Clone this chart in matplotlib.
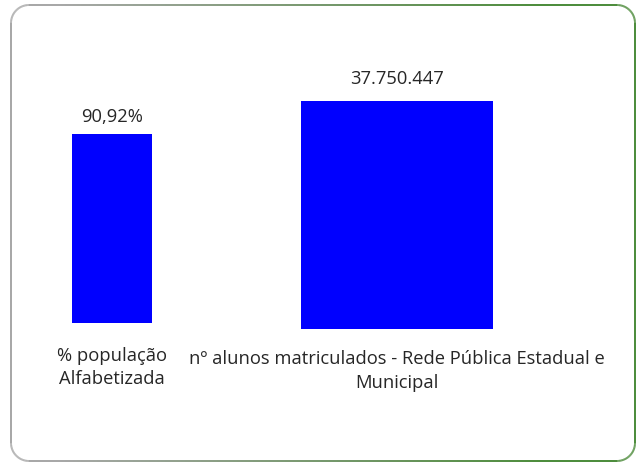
import numpy as np
import matplotlib
matplotlib.use('Agg')
import matplotlib.pyplot as plt
from matplotlib.collections import LineCollection
from matplotlib.transforms import Affine2D

plt.rcParams['font.family'] = ['Open Sans', 'DejaVu Sans']

# dados
categorias = ['% população\nAlfabetizada',
              'nº alunos matriculados - Rede Pública Estadual e\nMunicipal']
valores = [90.92, 37750447]
rotulos = ['90,92%', '37.750.447']

W, H = 641, 462
fig = plt.figure(figsize=(W / 100, H / 100), dpi=100)
cor_txt = '#262626'
azul = '#0000ff'

def px_axes(x0, x1, ytop, ybot):
    # pixel coords (origem em cima) -> fracao da figura
    return fig.add_axes([x0 / W, 1 - ybot / H, (x1 - x0) / W, (ybot - ytop) / H])

# barra 1: x 72-152, topo 134, base 323
ax1 = px_axes(32, 192, 60, 323)
ax1.bar([0], [valores[0]], width=1, color=azul)
ax1.set_xlim(-1, 1)
ax1.set_ylim(0, valores[0] * (323 - 60) / (323 - 134))

# barra 2: x 301-493, topo 101, base 329
ax2 = px_axes(205, 589, 60, 329)
ax2.bar([0], [valores[1]], width=1, color=azul)
ax2.set_xlim(-1, 1)
ax2.set_ylim(0, valores[1] * (329 - 60) / (329 - 101))

fs = 13.2
for ax, cat, rot, pad, lpad in [(ax1, categorias[0], rotulos[0], 17, 6),
                                (ax2, categorias[1], rotulos[1], 15, 9)]:
    ax.set_xticks([0])
    ax.set_xticklabels([cat], fontsize=fs, color=cor_txt, linespacing=1.42)
    ax.tick_params(axis='x', length=0, pad=pad)
    ax.set_yticks([])
    for s in ax.spines.values():
        s.set_visible(False)
    ax.patch.set_alpha(0)
    ax.bar_label(ax.containers[0], labels=[rot], padding=lpad,
                 fontsize=fs, color=cor_txt)

# borda arredondada com gradiente cinza -> verde
x0, y0, x1, y1, r = 11, 5, 635, 461, 18
pts = []
def arco(cx, cy, a0, a1):
    t = np.linspace(np.radians(a0), np.radians(a1), 20)
    return list(zip(cx + r * np.cos(t), cy + r * np.sin(t)))
pts += [(x0 + r, y0), (x1 - r, y0)]
pts += arco(x1 - r, y0 + r, -90, 0)
pts += [(x1, y1 - r)]
pts += arco(x1 - r, y1 - r, 0, 90)
pts += [(x0 + r, y1)]
pts += arco(x0 + r, y1 - r, 90, 180)
pts += [(x0, y0 + r)]
pts += arco(x0 + r, y0 + r, 180, 270)
dens = []
for (ax_, ay_), (bx_, by_) in zip(pts[:-1], pts[1:]):
    n = max(2, int(np.hypot(bx_ - ax_, by_ - ay_) / 4))
    for k in range(n):
        dens.append((ax_ + (bx_ - ax_) * k / n, ay_ + (by_ - ay_) * k / n))
dens.append(pts[-1])
dens = np.array(dens)
segs = np.stack([dens[:-1], dens[1:]], axis=1)
c0 = np.array([0.65, 0.65, 0.65])
c1 = np.array([0.29, 0.54, 0.22])
tt = np.clip((segs[:, :, 0].mean(axis=1) - 60) / 480, 0, 1)
cores = c0[None, :] * (1 - tt[:, None]) + c1[None, :] * tt[:, None]
tr = Affine2D().scale(1, -1).translate(0, H) + Affine2D().scale(1 / W, 1 / H) + fig.transFigure
lc = LineCollection(segs, colors=cores, linewidths=1.4, transform=tr)
fig.add_artist(lc)

fig.savefig('out.png', dpi=100)
